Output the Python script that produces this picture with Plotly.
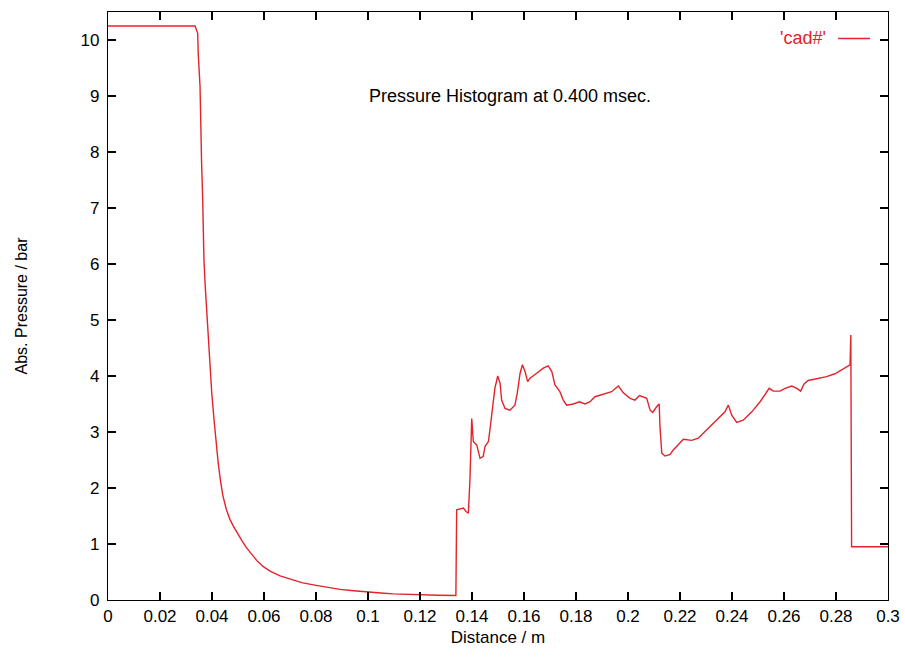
import plotly.graph_objects as go

# Distance (m) and absolute pressure (bar)
distance = [
    0.0, 0.0335, 0.0345, 0.0347, 0.0354, 0.03565, 0.0360, 0.0364, 0.03665, 0.0369,
    0.0374, 0.0380, 0.0386, 0.0392, 0.0399, 0.0408, 0.0415, 0.0424, 0.0433, 0.0442,
    0.0455, 0.0469, 0.0482, 0.0496, 0.0515, 0.0533, 0.0555, 0.0575, 0.0596, 0.0625,
    0.0662, 0.0700, 0.0745, 0.0790, 0.0840, 0.0892, 0.0945, 0.0995, 0.1050, 0.1097,
    0.1150, 0.1200, 0.1270, 0.1338,
    0.1341, 0.1367, 0.1377, 0.1386, 0.1392, 0.1397, 0.1399, 0.1405, 0.1418, 0.1431,
    0.1443, 0.1450, 0.1463, 0.1469, 0.1482, 0.1488, 0.1499, 0.1508, 0.1514, 0.1527,
    0.1546, 0.1565, 0.1574, 0.1585, 0.1594, 0.1604, 0.1614, 0.1623, 0.1649, 0.1674,
    0.1693, 0.1707, 0.1719, 0.1738, 0.1751, 0.1764, 0.1790, 0.1813, 0.1835, 0.1854,
    0.1873, 0.1905, 0.1937, 0.1963, 0.1982, 0.2008, 0.2027, 0.2044, 0.2059, 0.2072,
    0.2085, 0.2095, 0.2110, 0.2120, 0.2123, 0.2130, 0.2142, 0.2162, 0.2174, 0.2194,
    0.2213, 0.2245, 0.2270, 0.2303, 0.2341, 0.2373, 0.2386, 0.2399, 0.2418, 0.2443,
    0.2476, 0.2508, 0.2543, 0.2559, 0.2585, 0.2604, 0.2630, 0.2649, 0.2664, 0.2677,
    0.2693, 0.2726, 0.2764, 0.2796, 0.2828, 0.2854, 0.2857, 0.2860, 0.3000,
]
pressure = [
    10.25, 10.25, 10.12, 9.76, 9.17, 8.45, 7.80, 7.20, 6.61, 6.07,
    5.60, 5.12, 4.64, 4.17, 3.70, 3.21, 2.86, 2.44, 2.12, 1.86,
    1.62, 1.44, 1.32, 1.22, 1.06, 0.93, 0.80, 0.69, 0.60, 0.51,
    0.43, 0.37, 0.31, 0.27, 0.23, 0.19, 0.165, 0.14, 0.125, 0.11,
    0.10, 0.09, 0.085, 0.08,
    1.61, 1.64, 1.58, 1.55, 2.14, 2.92, 3.24, 2.83, 2.77, 2.53,
    2.56, 2.74, 2.83, 3.04, 3.63, 3.78, 4.00, 3.87, 3.57, 3.42,
    3.39, 3.48, 3.69, 4.05, 4.20, 4.08, 3.90, 3.96, 4.05, 4.14,
    4.18, 4.08, 3.84, 3.72, 3.57, 3.48, 3.50, 3.54, 3.50, 3.54,
    3.63, 3.67, 3.72, 3.82, 3.70, 3.60, 3.57, 3.65, 3.63, 3.60,
    3.39, 3.35, 3.45, 3.50, 3.10, 2.62, 2.57, 2.60, 2.68, 2.77,
    2.87, 2.85, 2.89, 3.04, 3.21, 3.36, 3.48, 3.30, 3.17, 3.21,
    3.36, 3.54, 3.78, 3.73, 3.73, 3.78, 3.82, 3.78, 3.73, 3.86,
    3.92, 3.95, 3.99, 4.04, 4.12, 4.20, 4.73, 0.95, 0.95,
]

series_name = "'cad#'"
title_text = "Pressure Histogram at 0.400 msec."
x_title = "Distance / m"
y_title = "Abs. Pressure / bar"

RED = "#e3232b"
FONT = "Arial, Liberation Sans, Helvetica, sans-serif"

fig = go.Figure()
fig.add_trace(go.Scatter(
    x=distance, y=pressure, mode="lines", name=series_name,
    line=dict(color=RED, width=1.4), showlegend=False,
))

axis_common = dict(
    showgrid=False, zeroline=False, showline=True, linecolor="black", linewidth=1.3,
    mirror="ticks", ticks="inside", ticklen=8, tickwidth=1.5, tickcolor="black",
    tickfont=dict(family=FONT, size=17, color="black"), automargin=False,
)

fig.update_layout(
    width=905, height=658,
    margin=dict(l=108, r=17, t=12, b=58),
    paper_bgcolor="white", plot_bgcolor="white",
    font=dict(family=FONT, color="black"),
    xaxis=dict(range=[0, 0.3], dtick=0.02, tick0=0,
               title=dict(text=x_title, font=dict(family=FONT, size=17), standoff=6),
               **axis_common),
    yaxis=dict(range=[0, 10.5], dtick=1, tick0=0, ticklabelstandoff=4,
               title=dict(text=y_title, font=dict(family=FONT, size=16), standoff=48),
               **axis_common),
)

fig.add_annotation(x=0.515, y=0.857, xref="paper", yref="paper", text=title_text,
                   showarrow=False, font=dict(family=FONT, size=18, color="black"),
                   xanchor="center", yanchor="middle")
fig.add_annotation(x=0.923, y=0.955, xref="paper", yref="paper", text=series_name,
                   showarrow=False, font=dict(family=FONT, size=18, color=RED),
                   xanchor="right", yanchor="middle")
fig.add_shape(type="line", xref="paper", yref="paper", x0=0.936, x1=0.977,
              y0=0.955, y1=0.955, line=dict(color=RED, width=1.4))

fig.write_html("out.html")
